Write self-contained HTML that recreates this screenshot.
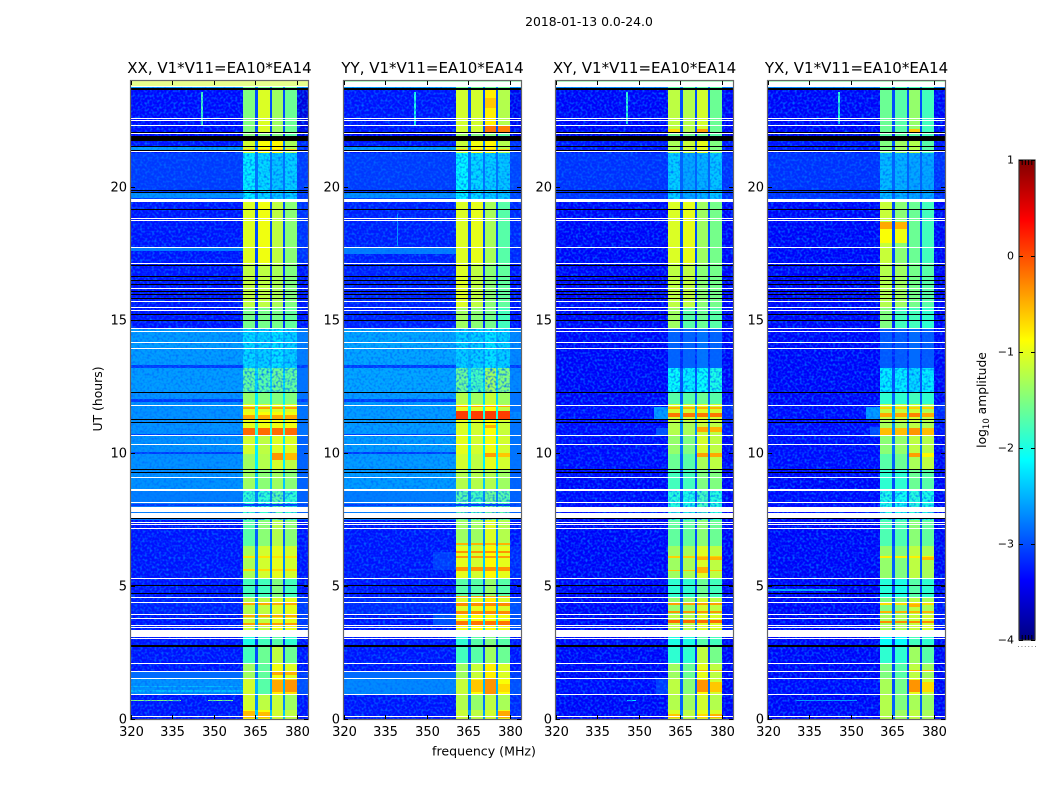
<!DOCTYPE html>
<html lang="en">
<head>
<meta charset="utf-8">
<title>2018-01-13 0.0-24.0</title>
<style>
html,body{margin:0;padding:0;background:#fff;width:1050px;height:800px;overflow:hidden}
svg{display:block}
text{font-family:"DejaVu Sans","Liberation Sans",sans-serif;fill:#000}
</style>
</head>
<body>
<svg id="figure" xmlns="http://www.w3.org/2000/svg" width="1050" height="800" viewBox="0 0 1050 800">
  <defs>
    <linearGradient id="jetGradient" x1="0" y1="1" x2="0" y2="0"></linearGradient>
    <filter id="grain" x="0" y="0" width="100%" height="100%" color-interpolation-filters="sRGB">
      <feTurbulence type="fractalNoise" baseFrequency="0.42" numOctaves="1" seed="7"/>
      <feColorMatrix type="matrix" values="0 0 0 0 0  0 0 0 0 0.42  0 0 0 0 1  2.6 0 0 0 -1.14"/>
    </filter>
  </defs>
  <text x="589" y="26" font-size="12.4" text-anchor="middle">2018-01-13 0.0-24.0</text>
  <text x="484" y="755.5" font-size="12.6" text-anchor="middle">frequency (MHz)</text>
  <text transform="translate(102,399) rotate(-90)" font-size="12.4" text-anchor="middle">UT (hours)</text>
  <text transform="translate(986,400) rotate(-90)" font-size="12.3" text-anchor="middle">log<tspan font-size="8.5" dy="3">10</tspan><tspan dy="-3"> amplitude</tspan></text>
  <g id="panels"></g>
  <g id="colorbar"></g>
</svg>
<script>
// ---------- data (log10 amplitude, UT hours, MHz) ----------
const panelTitles = ["XX, V1*V11=EA10*EA14", "YY, V1*V11=EA10*EA14", "XY, V1*V11=EA10*EA14", "YX, V1*V11=EA10*EA14"];
const xTickValues = [320, 335, 350, 365, 380];
const yTickValues = [0, 5, 10, 15, 20];
const colorTickValues = [-4, -3, -2, -1, 0, 1];
const freqEdges = [320, 360.5, 365, 365.8, 370.25, 371, 375, 375.7, 379.9, 384];
// column of each frequency span in a level row: 0 bg, 1-4 bands, 5 gap, 6 right edge
const freqColumns = [0, 1, 5, 2, 5, 3, 5, 4, 6];
const utEdges = [0, 0.35, 0.9, 1.55, 2.1, 2.75, 3.3, 3.95, 4.6, 5.3, 6.5, 7.5, 8.6, 9.4, 9.95, 10.7, 11.2, 11.55, 11.85, 12.3, 13.2, 14.7, 15.5, 17.1, 19.5, 21.3, 21.9, 22.1, 23.7, 24];

const levelsXX = [
[-3.3,-.9,-.9,-1.1,-1.2,-2.4,-3.3],[-3.3,-1.1,-1.2,-1.15,-1.35,-2.7,-3.3],[-2.65,-1.1,-1.7,-.8,-.75,-2.5,-3],[-2.85,-1.35,-1.65,-.95,-1.05,-2.8,-3.1],
[-3.3,-1.8,-1.6,-1.2,-1.6,-3,-3.3],[-3.3,-2,-1.8,-1.7,-1.9,-3.1,-3.3],[-3.3,-1.15,-1.2,-1,-1,-2.6,-3.1],[-3.25,-1.25,-1.2,-1.05,-1,-2.7,-3.1],
[-3.3,-1.8,-1.8,-1.5,-1.8,-3,-3.3],[-3.3,-1.3,-1.1,-1,-1.1,-2.7,-3.3],[-3.3,-1.7,-1.45,-1.25,-1.45,-2.9,-3.3],[-2.75,-1.9,-1.9,-1.7,-1.9,-2.7,-2.9],
[-2.65,-1.35,-1.45,-1.35,-1.45,-2.4,-2.9],[-2.65,-1.35,-1.25,-1.1,-1.2,-2.2,-2.9],[-2.65,-1.1,-1.2,-1.05,-1.05,-2.2,-2.9],[-2.65,-1,-.95,-.95,-.95,-1.9,-2.8],
[-2.65,-.95,-.9,-.9,-.95,-1.9,-2.8],[-2.65,-1,-1.05,-1.05,-1.05,-2,-2.8],[-2.65,-1.4,-1.5,-1.5,-1.5,-2.2,-2.8],[-2.6,-1.65,-1.7,-1.6,-1.65,-2.3,-2.8],
[-2.6,-2.3,-2.35,-2.25,-2.35,-2.5,-2.75],[-3.3,-1.55,-1.55,-1.55,-1.65,-3.1,-3.3],[-3.3,-1.2,-1.2,-1.3,-1.5,-3.1,-3.3],[-3.3,-1.05,-.95,-1.2,-1.45,-3,-3.15],
[-3.1,-2.2,-2.3,-2.4,-2.35,-2.8,-3.1],[-3.3,-1.1,-.9,-.85,-1.3,-2.8,-3.2],[-3.4,-1.5,-1.5,-1.5,-1.7,-3.2,-3.5],[-3.35,-1.5,-1.05,-1.35,-1.6,-3,-3.55],
[-2.6,-1.6,-1.6,-1.6,-1.6,-2.7,-2.6]];
const levelsYY = [
[-3.3,-1.15,-1.2,-1.1,-.95,-2.6,-3.2],[-3.3,-1.25,-1.4,-1.2,-1.3,-2.8,-3.2],[-2.7,-1.15,-.9,-.6,-.9,-2.5,-3],[-2.85,-1.35,-1.15,-.8,-1.05,-2.8,-3.1],
[-3.3,-1.8,-1.7,-1.35,-1.6,-3,-3.3],[-3.3,-1.9,-1.7,-1.5,-1.7,-3,-3.3],[-3.3,-.95,-.9,-.9,-.95,-2.3,-3],[-3.2,-1.05,-1,-.8,-1.05,-2.5,-3],
[-3.3,-1.7,-1.7,-1.4,-1.7,-2.9,-3.3],[-3.3,-1,-1.1,-.85,-1,-2.4,-3.2],[-3.3,-1.35,-1.35,-1.05,-1.25,-2.7,-3.3],[-2.75,-1.7,-1.8,-1.6,-1.7,-2.7,-2.9],
[-2.6,-1.25,-1.25,-1.25,-1.35,-2.4,-2.9],[-2.6,-1.1,-1.2,-1,-1.1,-2.2,-2.8],[-2.6,-1,-1.1,-.95,-1.1,-2.2,-2.8],[-2.6,-1.05,-1.1,-.9,-1.15,-2.2,-2.8],
[-2.6,-.95,-.95,-.9,-1,-2,-2.7],[-2.6,-1,-1.05,-.9,-1.2,-2.1,-2.8],[-2.6,-1.25,-1.35,-1.15,-1.35,-2.3,-2.8],[-2.55,-1.6,-1.8,-1.35,-1.5,-2.3,-2.7],
[-2.55,-2.35,-2.35,-2.25,-2.35,-2.5,-2.7],[-3.25,-1.35,-1.45,-1.55,-1.8,-3.1,-3.3],[-3.25,-1.05,-1.2,-1.45,-1.65,-3.1,-3.3],[-3.25,-1.05,-1,-1.3,-1.7,-3,-3.2],
[-3.1,-2.15,-2.3,-2.35,-2.4,-2.8,-3.05],[-3.3,-1.15,-.95,-.85,-1.25,-2.8,-3.15],[-3.4,-1.4,-1.5,-1.5,-1.7,-3.2,-3.5],[-3.3,-1.1,-1.1,-.8,-1.25,-3,-3.45],
[-2.6,-1.6,-1.6,-1.6,-1.6,-2.7,-2.6]];
const levelsXY = [
[-3.4,-1.05,-1.2,-1,-1.05,-2.8,-3.4],[-3.4,-1.25,-1.35,-1.1,-1.25,-2.9,-3.4],[-3.35,-1.2,-1.45,-.9,-1.1,-2.9,-3.4],[-3.4,-1.35,-1.6,-1,-1.2,-3,-3.4],
[-3.4,-1.9,-1.9,-1.2,-1.55,-3.1,-3.4],[-3.4,-2,-2,-1.7,-1.8,-3.1,-3.4],[-3.4,-1.2,-1.25,-1.05,-1.05,-2.8,-3.3],[-3.4,-1.4,-1.4,-1.1,-1.2,-2.9,-3.3],
[-3.4,-1.9,-1.9,-1.6,-1.8,-3.05,-3.4],[-3.4,-1.35,-1.3,-1.05,-1.2,-2.9,-3.4],[-3.4,-1.65,-1.65,-1.45,-1.6,-3,-3.4],[-3.35,-1.95,-2,-1.8,-1.95,-3,-3.4],
[-3.4,-1.8,-1.8,-1.5,-1.5,-3,-3.4],[-3.35,-1.6,-1.7,-1.3,-1.2,-2.9,-3.4],[-3.35,-1.4,-1.5,-1.1,-1.2,-2.8,-3.4],[-3.35,-1.25,-1.3,-1.15,-1.2,-2.7,-3.3],
[-3.35,-1.1,-1.1,-1.05,-1.1,-2.5,-3.2],[-3.35,-1.1,-1.1,-1.05,-1.1,-2.5,-3.2],[-3.4,-1.7,-1.7,-1.6,-1.7,-2.9,-3.4],[-3.4,-2.1,-2.2,-2.1,-2,-3,-3.4],
[-3.4,-2.9,-2.9,-2.8,-2.9,-3.2,-3.4],[-3.4,-1.35,-1.7,-1.6,-1.7,-3.15,-3.4],[-3.4,-1.2,-1.2,-1.45,-1.55,-3.1,-3.4],[-3.4,-1.05,-1,-1.35,-1.55,-3,-3.4],
[-3.15,-2.35,-2.55,-2.5,-2.4,-2.9,-3.15],[-3.3,-1.3,-1.15,-1,-1.5,-3,-3.3],[-3.5,-1.6,-1.6,-1.6,-1.7,-3.2,-3.5],[-3.4,-1.2,-1.25,-1.1,-1.6,-3,-3.4],
[-2.7,-1.7,-1.7,-1.7,-1.7,-2.7,-2.7]];
const levelsYX = [
[-3.4,-1.25,-1.35,-1.2,-1.3,-2.9,-3.4],[-3.4,-1.25,-1.5,-1.3,-1.4,-2.9,-3.4],[-3.35,-1.3,-1.55,-1,-1.15,-3,-3.4],[-3.4,-1.5,-1.7,-1.2,-1.35,-3,-3.4],
[-3.4,-1.9,-1.9,-1.35,-1.7,-3.1,-3.4],[-3.4,-2.1,-2.1,-1.8,-1.9,-3.1,-3.4],[-3.4,-1.3,-1.3,-1.15,-1.1,-2.8,-3.3],[-3.4,-1.5,-1.5,-1.2,-1.3,-2.9,-3.3],
[-3.4,-1.95,-2,-1.7,-1.9,-3.05,-3.4],[-3.4,-1.4,-1.5,-1.2,-1.3,-2.9,-3.4],[-3.4,-1.75,-1.75,-1.45,-1.65,-3,-3.4],[-3.35,-2,-2.05,-1.95,-2,-3,-3.4],
[-3.4,-1.9,-1.9,-1.6,-1.7,-3,-3.4],[-3.35,-1.7,-1.6,-1.3,-1.2,-2.9,-3.4],[-3.35,-1.45,-1.4,-1.2,-1.25,-2.8,-3.4],[-3.35,-1.3,-1.3,-1.2,-1.3,-2.7,-3.3],
[-3.35,-1.2,-1.15,-1.1,-1.2,-2.5,-3.2],[-3.35,-1.2,-1.2,-1.15,-1.3,-2.6,-3.2],[-3.4,-1.9,-1.9,-1.8,-1.9,-2.9,-3.4],[-3.4,-2.2,-2.2,-2.3,-2.2,-3,-3.4],
[-3.4,-2.95,-2.95,-2.85,-2.95,-3.2,-3.4],[-3.4,-1.5,-1.8,-1.8,-1.9,-3.15,-3.4],[-3.4,-1.25,-1.35,-1.55,-1.7,-3.1,-3.4],[-3.4,-1.15,-1.45,-1.6,-1.8,-3,-3.4],
[-3.15,-2.45,-2.5,-2.55,-2.55,-2.9,-3.15],[-3.3,-1.5,-1.35,-1.25,-1.7,-3,-3.3],[-3.5,-1.7,-1.7,-1.7,-1.8,-3.2,-3.5],[-3.4,-1.6,-1.7,-1.4,-1.8,-3,-3.4],
[-2.7,-1.8,-1.8,-1.8,-1.8,-2.7,-2.7]];
const panelLevels = [levelsXX, levelsYY, levelsXY, levelsYX];

// localized features: [f0, f1, t0, t1, value]
const featuresXX = [[345.4,345.9,22.3,23.6,-1.8],[320,360.5,19.6,19.8,-2.65],[320,360.5,21.35,21.5,-2.6],[320,360.5,17.6,17.75,-2.75],[320,360.5,13.22,13.3,-3.1],[380,384,13.22,13.3,-3.1],[320,360.5,11.94,12.02,-3.1],[380,384,11.94,12.02,-3.1],[320,360.5,10.65,10.72,-3.1],[320,360.5,9.98,10.03,-3.1],[320,384,8,8.08,-3.1],[320,360.5,1.03,1.09,-2.45],[320,360.5,1.2,1.26,-2.45],[320,360.5,1.79,2.08,-3.3],[379.9,384,1.79,2.08,-3.3],[320,338,.66,.7,-1.5],[348,357,.66,.7,-1.5],
[371,375,9.75,10,-.35],[375.7,379.9,9.75,10,-.55],[371,375,1,1.45,-.45],[375.7,379.9,1,1.45,-.35],[371,375,1.65,1.8,-.45],[375.7,379.9,1.65,1.8,-.5],[360.5,365,.02,.3,-.55],[365.8,370.25,.02,.25,-.55]];
const featuresYY = [[345.4,345.9,22.3,23.6,-2],[339.3,339.7,17.8,19,-2.6],[320,360.5,19.6,19.8,-2.65],[320,360.5,21.35,21.5,-2.6],[320,360.5,17.5,17.75,-2.75],[320,360.5,13.22,13.3,-3.1],[380,384,13.22,13.3,-3.1],[320,360.5,11.94,12.02,-3.1],[320,360.5,10.65,10.72,-3.1],[320,360.5,9.98,10.03,-3.1],[320,384,8,8.08,-3.1],[352,360.5,5.6,6.3,-3.1],[352,360.5,3.5,4,-3],[320,360.5,1.79,2.08,-3.3],[379.9,384,1.79,2.08,-3.3],
[371,375,22.1,22.35,-.2],[375.7,379.9,22.1,22.3,-.25],[371,375,23,23.35,-.6],[371,375,10.95,11.05,-.5],[371,375,9.85,10,-.4],[375.7,379.9,9.85,10,-.6],[365.8,370.25,1,1.45,-.6],[371,375,.95,1.5,-.35],[375.7,379.9,1,1.3,-.7],[375.7,379.9,.05,.3,-.45]];
const featuresXY = [[345.4,345.9,22.4,23.6,-1.9],[355.4,360.5,11.3,11.73,-2.6],[356,360.5,10.65,10.95,-3],[356,360.5,0.95,1.5,-3.1],[345.7,349,.66,.7,-2.2],
[371,375,10.8,11,-.45],[375.7,379.9,10.8,11,-.5],[371,375,9.85,10,-.4],[375.7,379.9,9.85,10,-.45],[371,375,1,1.45,-.35],[375.7,379.9,1,1.4,-.6],[371,375,1.75,1.85,-.5],[375.7,379.9,1.75,1.85,-.5],[371,375,5.5,5.7,-.5],[371,375,6,6.1,-.5],[375.7,379.9,6,6.1,-.5],[360.5,365,.05,.2,-.6],[371,375,.05,.2,-.7],[375.7,379.9,.05,.2,-.5],[371,375,22.1,22.2,-.4],[360.5,365,22.1,22.2,-.7]];
const featuresYX = [[345.4,345.9,22.4,23.6,-1.9],[355.4,360.5,11.3,11.73,-2.6],[357,360.5,10.6,11,-3],[320,345,4.83,4.88,-2.5],[330,352,0.66,0.7,-2.6],
[371,375,10.7,10.95,-.35],[371,375,9.85,10,-.4],[375.7,379.9,9.85,10,-.85],[371,375,1,1.45,-.35],[375.7,379.9,1,1.4,-.7],[371,375,1.75,1.85,-.5],[375.7,379.9,1.75,1.85,-.6],[371,375,4.2,4.32,-.5],[375.7,379.9,6,6.1,-.55],[371,375,11.35,11.5,-.25],[371,375,22.1,22.2,-.6],
[360.5,365,18.45,18.7,-.45],[365.8,370.25,18.45,18.7,-.5],[360.5,365,17.9,18.45,-.9],[365.8,370.25,17.9,18.45,-.95]];
const panelFeatures = [featuresXX, featuresYY, featuresXY, featuresYX];

// horizontal bursts across the four receiver bands: [t0, t1, value]
const burstsXX = [[10.65,10.95,-.15],[11.3,11.45,-.45],[11.65,11.75,-.4],[3.5,3.62,-.4],[3.85,3.95,-.45],[4.28,4.36,-.45],[5.55,5.65,-.7],[6.05,6.12,-.75],[21.38,21.46,-.65]];
const burstsYY = [[11.25,11.6,.08],[11.72,11.82,-.45],[3.5,3.68,-.2],[3.95,4.05,-.3],[4.25,4.4,-.3],[4.55,4.62,-.4],[5.55,5.72,-.35],[6.05,6.15,-.4],[6.25,6.32,-.35],[6.55,6.62,-.5],[21.38,21.46,-.65]];
const burstsXY = [[11.35,11.5,-.2],[11.65,11.75,-.5],[3.6,3.72,-.15],[4,4.08,-.35],[4.28,4.36,-.4],[5.55,5.62,-.6],[6.05,6.12,-.65]];
const burstsYX = [[11.35,11.5,-.45],[11.65,11.75,-.65],[10.7,10.95,-.55],[3.6,3.7,-.3],[4,4.08,-.5],[4.28,4.36,-.7],[6.05,6.12,-.8]];
const panelBursts = [burstsXX, burstsYY, burstsXY, burstsYX];

const whiteLines = [22.58,22.51,22.33,22.04,21.33,18.84,18.75,17.72,17.15,16.18,15.72,15.48,15.37,14.69,14.56,14.18,13.95,11.81,10.66,10.31,9.07,8.65,8.58,8.13,7.38,7.3,7.15,5.27,4.56,4.37,3.92,3.8,3.52,3.43,3.03,2.08,1.79,1.51,0.91,0.08];
const whiteBands = [[23.79,24],[19.45,19.55],[7.79,7.96],[7.56,7.75],[3.07,3.36]];
const blackLines = [22.08,21.52,21.37,19.87,19.81,19.15,17.05,16.65,16.49,16.34,16.08,15.96,15.81,15.23,15.01,12.3,11.27,11.17,9.38,9.29,7.55,5.03,4.71];
const blackBands = [[23.66,23.74],[21.75,21.93],[2.7,2.78]];
// pale strip along the top of each panel: [start UT, value, opacity]
const topStrips = [[23.82,-1.1,0.55],[23.96,-1.6,0.5],[23.96,-1.6,0.5],[23.96,-1.6,0.5]];
// quiet intervals whose receiver bands look mottled: [t0, t1]
const mottledIntervals = [[7.5,8.6],[12.3,14.7],[19.5,21.3]];

// ---------- layout & scales ----------
const axisLefts = [131, 344, 556, 768];
const axisWidth = 177, axisTop = 81, axisBottom = 719;
const xMin = 320, xMax = 384, yMin = 0, yMax = 24;
const bgSpans = [[320, 360.5], [379.9, 384]];
const bandSpans = [[360.5, 365], [365.8, 370.25], [371, 375], [375.7, 379.9]];
const cbLeft = 1019, cbRight = 1035, cbTop = 160, cbBottom = 640, cbMin = -4, cbMax = 1;

function yScale(t) { return axisBottom - (t - yMin) / (yMax - yMin) * (axisBottom - axisTop); }
function xScale(left, f) { return left + (f - xMin) / (xMax - xMin) * axisWidth; }
function cbScale(v) { return cbBottom - (v - cbMin) / (cbMax - cbMin) * (cbBottom - cbTop); }
function jet(v) {
  const n = Math.min(1, Math.max(0, (v - cbMin) / (cbMax - cbMin)));
  const ch = c => Math.round(255 * Math.min(1, Math.max(0, 1.5 - Math.abs(4 * n - c))));
  return 'rgb(' + ch(3) + ',' + ch(2) + ',' + ch(1) + ')';
}
const NS = 'http://www.w3.org/2000/svg';
function make(tag, parent, attrs, text) {
  const node = document.createElementNS(NS, tag);
  for (const k in attrs) node.setAttribute(k, attrs[k]);
  if (text !== undefined) node.textContent = text;
  parent.appendChild(node);
  return node;
}
function block(parent, left, f0, f1, t0, t1, fill) {
  const x0 = Math.round(xScale(left, f0)), x1 = Math.round(xScale(left, f1));
  const y0 = Math.round(yScale(t1)), y1 = Math.round(yScale(t0));
  return make('rect', parent, {x: x0, y: y0, width: Math.max(1, x1 - x0), height: Math.max(1, y1 - y0), fill: fill, 'shape-rendering': 'crispEdges'});
}

// ---------- panels ----------
const panelsRoot = document.getElementById('panels');
panelTitles.forEach(function (title, p) {
  const left = axisLefts[p];
  const g = make('g', panelsRoot, {});
  
  

  const titleEl = make('text', g, {x: left + axisWidth / 2, y: 73, 'font-size': 15, 'text-anchor': 'middle'}, title);
  
  

  const clipId = 'clip' + p;
  const clip = make('clipPath', g, {id: clipId});
  make('rect', clip, {x: left, y: axisTop, width: axisWidth, height: axisBottom - axisTop});

  const heat = make('g', g, {'clip-path': 'url(#' + clipId + ')'});
  
  

  panelLevels[p].forEach(function (row, r) {
    freqColumns.forEach(function (col, c) {
      const cell = block(heat, left, freqEdges[c], freqEdges[c + 1], utEdges[r], utEdges[r + 1], jet(row[col]));
      
      
    });
  });
  panelBursts[p].forEach(function (b) {
    bandSpans.forEach(function (s) {
      const cell = block(heat, left, s[0], s[1], b[0], b[1], jet(b[2]));
      
      
    });
  });
  panelFeatures[p].forEach(function (f) {
    const cell = block(heat, left, f[0], f[1], f[2], f[3], jet(f[4]));
    
    
  });
  // decorative receiver-noise texture on the off-band background
  bgSpans.forEach(function (s) {
    const x0 = Math.round(xScale(left, s[0])), x1 = Math.round(xScale(left, s[1]));
    const tex = make('rect', heat, {x: x0, y: axisTop, width: x1 - x0, height: axisBottom - axisTop, filter: 'url(#grain)'});
    
    
  });
  // decorative mottling over the bands during quiet intervals
  mottledIntervals.forEach(function (m) {
    const x0 = Math.round(xScale(left, bandSpans[0][0])), x1 = Math.round(xScale(left, bandSpans[3][1]));
    const y0 = Math.round(yScale(m[1])), y1 = Math.round(yScale(m[0]));
    const tex = make('rect', heat, {x: x0, y: y0, width: x1 - x0, height: y1 - y0, filter: 'url(#grain)'});
    
    
  });

  whiteLines.forEach(function (t) {
    const m = block(heat, left, xMin, xMax, t - 0.018, t + 0.018, '#fff');
    
    
  });
  whiteBands.forEach(function (b) {
    const m = block(heat, left, xMin, xMax, b[0], b[1], '#fff');
    
    
  });
  blackLines.forEach(function (t) {
    const m = block(heat, left, xMin, xMax, t - 0.018, t + 0.018, '#000');
    
    
  });
  blackBands.forEach(function (b) {
    const m = block(heat, left, xMin, xMax, b[0], b[1], '#000');
    
    
  });
  const strip = block(heat, left, xMin, xMax, topStrips[p][0], yMax, jet(topStrips[p][1]));
  strip.setAttribute('opacity', topStrips[p][2]);
  
  

  const frame = make('rect', g, {x: left - 0.5, y: axisTop - 0.5, width: axisWidth + 1, height: axisBottom - axisTop + 1, fill: 'none', stroke: '#666', 'stroke-width': 1.2});
  
  

  xTickValues.forEach(function (v) {
    const x = Math.round(xScale(left, v)) + 0.5;
    const t1 = make('line', g, {x1: x, x2: x, y1: axisBottom, y2: axisBottom - 4, stroke: '#000'});
    
    
    const t2 = make('line', g, {x1: x, x2: x, y1: axisTop, y2: axisTop + 4, stroke: '#000'});
    
    
    const lab = make('text', g, {x: x, y: 736, 'font-size': 13, 'text-anchor': 'middle'}, String(v));
    
    
  });
  yTickValues.forEach(function (v) {
    const y = Math.round(yScale(v)) + 0.5;
    const t1 = make('line', g, {x1: left, x2: left + 4, y1: y, y2: y, stroke: '#000'});
    
    
    const t2 = make('line', g, {x1: left + axisWidth, x2: left + axisWidth - 4, y1: y, y2: y, stroke: '#000'});
    
    
    const lab = make('text', g, {x: left - 4, y: y + 3.8, 'font-size': 13, 'text-anchor': 'end'}, String(v));
    
    
  });
});

// ---------- colorbar ----------
const grad = document.getElementById('jetGradient');
for (let i = 0; i <= 40; i++) {
  const v = cbMin + (cbMax - cbMin) * i / 40;
  make('stop', grad, {offset: (i / 40 * 100) + '%', 'stop-color': jet(v)});
}
const cb = document.getElementById('colorbar');
const cbBar = make('rect', cb, {x: cbLeft, y: cbTop, width: cbRight - cbLeft, height: cbBottom - cbTop, fill: 'url(#jetGradient)', stroke: '#333', 'stroke-width': 1.2});


colorTickValues.forEach(function (v) {
  const y = Math.round(cbScale(v)) + 0.5;
  const a = make('line', cb, {x1: cbLeft, x2: cbLeft + 4, y1: y, y2: y, stroke: '#000'});
  
  
  const b = make('line', cb, {x1: cbRight, x2: cbRight - 4, y1: y, y2: y, stroke: '#000'});
  
  
  const lab = make('text', cb, {x: 1014, y: y + 3, 'font-size': 11, 'text-anchor': 'end'}, String(v).replace('-', '\u2212'));
  
  
});
for (let i = 1; i <= 4; i++) {
  const x = cbLeft + i * 3.2;
  const a = make('line', cb, {x1: x, x2: x, y1: cbTop, y2: cbTop + 5, stroke: '#000'});
  
  
  const b = make('line', cb, {x1: x, x2: x, y1: cbBottom, y2: cbBottom - 5, stroke: '#000'});
  
  
}
for (let i = 0; i <= 5; i++) {
  const d = make('rect', cb, {x: cbLeft - 1 + i * 3.4, y: 646, width: 1, height: 1, fill: '#888'});
  
  
}
</script>
</body>
</html>
